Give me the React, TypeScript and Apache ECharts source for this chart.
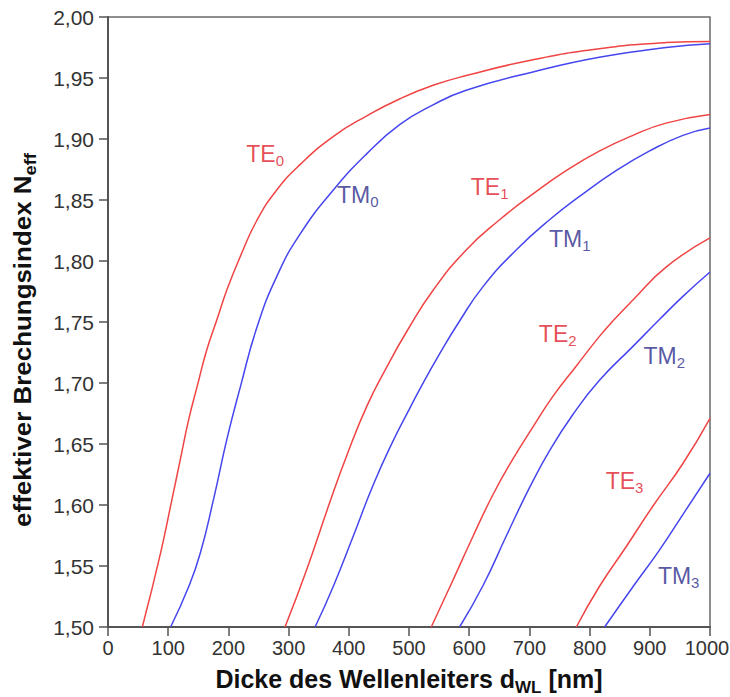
import React, { useEffect, useRef } from "react";
import * as echarts from "echarts";

// Thickness d_WL [nm] and effective index N_eff for each guided mode
const TE0: [number, number][] = [
  [57, 1.5], [87, 1.56], [106, 1.604], [120, 1.637], [134, 1.67], [148, 1.697],
  [164, 1.727], [181, 1.752], [198, 1.777], [220, 1.804], [247, 1.833],
  [280, 1.858], [319, 1.879], [374, 1.902], [430, 1.919], [485, 1.933],
  [540, 1.944], [595, 1.952], [706, 1.965], [816, 1.974], [927, 1.979], [1000, 1.98],
];
const TM0: [number, number][] = [
  [104, 1.5], [134, 1.533], [153, 1.56], [175, 1.604], [198, 1.655], [220, 1.697],
  [247, 1.745], [280, 1.787], [319, 1.822], [374, 1.858], [430, 1.888],
  [485, 1.912], [540, 1.928], [595, 1.94], [706, 1.955], [816, 1.967],
  [927, 1.975], [1000, 1.978],
];
const TE1: [number, number][] = [
  [294, 1.5], [330, 1.547], [369, 1.603], [397, 1.641], [430, 1.681], [463, 1.713],
  [496, 1.742], [540, 1.776], [595, 1.809], [651, 1.834], [706, 1.855],
  [761, 1.874], [816, 1.89], [872, 1.903], [927, 1.913], [1000, 1.92],
];
const TM1: [number, number][] = [
  [344, 1.5], [374, 1.533], [407, 1.574], [441, 1.617], [474, 1.653], [501, 1.679],
  [518, 1.695], [551, 1.724], [583, 1.75], [623, 1.779], [678, 1.809],
  [734, 1.834], [789, 1.855], [844, 1.874], [899, 1.89], [955, 1.903], [1000, 1.909],
];
const TE2: [number, number][] = [
  [537, 1.5], [568, 1.533], [606, 1.574], [640, 1.609], [673, 1.638], [706, 1.664],
  [739, 1.689], [778, 1.714], [816, 1.738], [839, 1.751], [872, 1.768],
  [927, 1.795], [1000, 1.819],
];
const TM2: [number, number][] = [
  [584, 1.5], [623, 1.534], [662, 1.575], [700, 1.614], [734, 1.645], [772, 1.674],
  [816, 1.702], [872, 1.73], [916, 1.752], [955, 1.771], [1000, 1.791],
];
const TE3: [number, number][] = [
  [778, 1.5], [816, 1.533], [861, 1.566], [905, 1.599], [955, 1.634], [1000, 1.671],
];
const TM3: [number, number][] = [
  [825, 1.5], [872, 1.533], [916, 1.563], [960, 1.596], [1000, 1.626],
];

const modeNames = ["TE0", "TM0", "TE1", "TM1", "TE2", "TM2", "TE3", "TM3"];
const modeData = [TE0, TM0, TE1, TM1, TE2, TM2, TE3, TM3];

// Where each mode's name is written, in data units [d, N]
const labelPositions: [number, number][] = [
  [261, 1.888], [415, 1.854], [634, 1.861], [767, 1.818],
  [747, 1.74], [924, 1.722], [858, 1.62], [948, 1.542],
];

const xTitle = "Dicke des Wellenleiters d{s|WL} [nm]";
const yTitle = "effektiver Brechungsindex N{s|eff}";

const TE_LINE = "#f04444";
const TM_LINE = "#4646ee";
const TE_TEXT = "#e0202c";
const TM_TEXT = "#2c2c8c";
const FONT = "'Liberation Sans', Arial, Helvetica, sans-serif";

const titleRich = {
  s: {
    fontSize: 17,
    fontWeight: "bold",
    fill: "#111",
    fontFamily: FONT,
    lineHeight: 34,
    verticalAlign: "bottom",
  },
};

export default function App() {
  const ref = useRef<HTMLDivElement>(null);

  useEffect(() => {
    if (!ref.current) return;
    const chart = echarts.init(ref.current, null, { renderer: "svg" });

    const lineSeries = modeNames.map((name, i) => {
      const isTE = name.startsWith("TE");
      return {
        name,
        type: "line",
        data: modeData[i],
        showSymbol: false,
        smooth: 0.5,
        clip: true,
        lineStyle: { color: isTE ? TE_LINE : TM_LINE, width: 1.5 },
        z: 2,
      };
    });

    const labelSeries = modeNames.map((name, i) => {
      const isTE = name.startsWith("TE");
      const color = isTE ? TE_TEXT : TM_TEXT;
      return {
        name: name + "-label",
        type: "scatter",
        data: [labelPositions[i]],
        symbolSize: 0,
        silent: true,
        z: 3,
        label: {
          show: true,
          position: "inside",
          formatter: `{b|${name.slice(0, 2)}}{s|${name.slice(2)}}`,
          rich: {
            b: { fontSize: 23, color, fontFamily: FONT, lineHeight: 26 },
            s: {
              fontSize: 15,
              color,
              fontFamily: FONT,
              lineHeight: 28,
              verticalAlign: "bottom",
            },
          },
        },
      };
    });

    chart.setOption({
      animation: false,
      backgroundColor: "#ffffff",
      grid: {
        left: 108,
        right: 20,
        top: 17,
        bottom: 70,
        outerBoundsMode: "none",
        containLabel: false,
        show: true,
        borderColor: "#6a6a6a",
        borderWidth: 1.5,
      },
      xAxis: {
        type: "value",
        min: 0,
        max: 1000,
        interval: 100,
        axisLine: { show: true, lineStyle: { color: "#555", width: 2 } },
        axisTick: { show: true, inside: false, length: 9, lineStyle: { color: "#555", width: 1.5 } },
        axisLabel: {
          fontSize: 20,
          color: "#333",
          fontFamily: FONT,
          margin: 11,
          // the last label is nudged left so it stays inside the page
          formatter: (v: number) => (v === 1000 ? `{e|${v}}` : String(v)),
          rich: {
            e: { fontSize: 20, color: "#333", fontFamily: FONT, padding: [0, 6, 0, 0] },
          },
        },
        splitLine: { show: false },
      },
      yAxis: {
        type: "value",
        min: 1.5,
        max: 2.0,
        interval: 0.05,
        axisLine: { show: true, lineStyle: { color: "#555", width: 2 } },
        axisTick: { show: true, inside: false, length: 9, lineStyle: { color: "#555", width: 1.5 } },
        axisLabel: {
          fontSize: 21,
          color: "#333",
          fontFamily: FONT,
          margin: 14,
          formatter: (v: number) => v.toFixed(2).replace(".", ","),
        },
        splitLine: { show: false },
      },
      graphic: [
        {
          type: "text",
          x: 409,
          y: 679,
          style: {
            text: xTitle,
            fontSize: 25,
            fontWeight: "bold",
            fill: "#111",
            fontFamily: FONT,
            align: "center",
            verticalAlign: "middle",
            rich: titleRich,
          },
        },
        {
          type: "text",
          x: 22,
          y: 340,
          rotation: Math.PI / 2,
          scaleX: 1.08,
          style: {
            text: yTitle,
            fontSize: 24,
            fontWeight: "bold",
            fill: "#111",
            fontFamily: FONT,
            align: "center",
            verticalAlign: "middle",
            rich: titleRich,
          },
        },
      ],
      series: [...lineSeries, ...labelSeries],
    });

    return () => chart.dispose();
  }, []);

  return (
    <div
      ref={ref}
      style={{ position: "absolute", left: 0, top: 0, width: 730, height: 697 }}
    />
  );
}
